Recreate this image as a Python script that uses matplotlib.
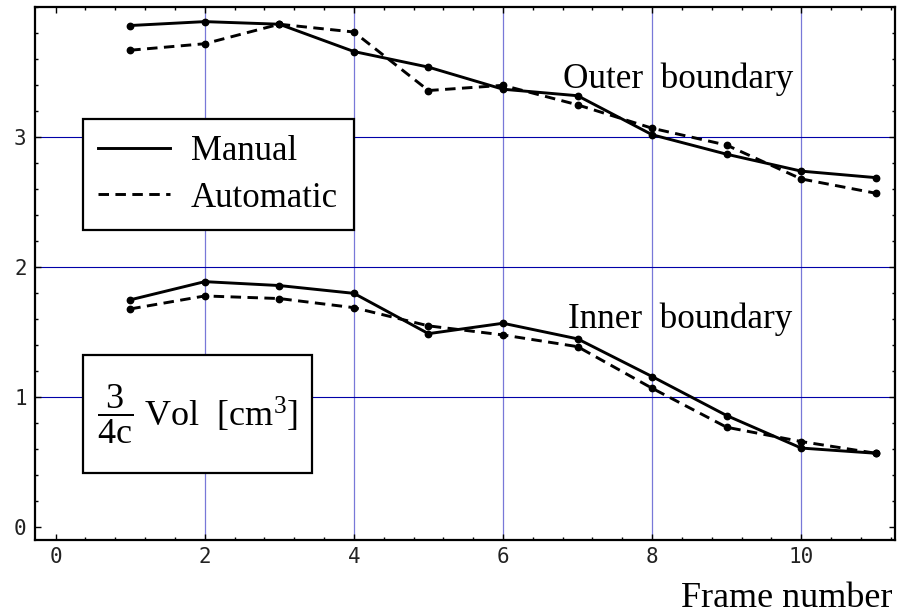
import matplotlib
matplotlib.use('Agg')
import matplotlib.pyplot as plt
from matplotlib.patches import Rectangle
from matplotlib.lines import Line2D
from matplotlib.ticker import MultipleLocator, FixedLocator

plt.rcParams['mathtext.fontset'] = 'custom'
plt.rcParams['mathtext.rm'] = 'Liberation Serif'
plt.rcParams['mathtext.it'] = 'Liberation Serif:italic'

frames = [1, 2, 3, 4, 5, 6, 7, 8, 9, 10, 11]
outer_manual = [3.86, 3.89, 3.87, 3.66, 3.54, 3.37, 3.32, 3.02, 2.87, 2.74, 2.69]
outer_auto = [3.67, 3.72, 3.87, 3.81, 3.36, 3.40, 3.25, 3.07, 2.94, 2.68, 2.57]
inner_manual = [1.75, 1.89, 1.86, 1.80, 1.49, 1.57, 1.45, 1.16, 0.86, 0.61, 0.57]
inner_auto = [1.68, 1.78, 1.76, 1.69, 1.55, 1.48, 1.39, 1.07, 0.77, 0.66, 0.57]

xgrid = [2, 4, 6, 8, 10]
ygrid = [1, 2, 3]
yticks = [0, 1, 2, 3]

serif = 'Liberation Serif'

fig = plt.figure(figsize=(8.97, 6.15), dpi=100)
ax = fig.add_axes([0.039, 0.1224, 0.959, 0.8657])

for g in xgrid:
    ax.axvline(g, color='#7878d8', lw=0.9, zorder=1)
for g in ygrid:
    ax.axhline(g, color='#0000a8', lw=0.8, zorder=1)

for ys, ls in [(outer_manual, '-'), (outer_auto, '--'), (inner_manual, '-'), (inner_auto, '--')]:
    ax.plot(frames, ys, color='black', lw=2.1, ls=ls, dashes=(3.6, 2.2) if ls == '--' else (None, None),
            marker='o', ms=4.6, zorder=3)

ax.set_xlim(-0.277, 11.26)
ax.set_ylim(-0.095, 4.0)
ax.xaxis.set_major_locator(MultipleLocator(2))
ax.xaxis.set_minor_locator(MultipleLocator(0.4))
ax.yaxis.set_major_locator(FixedLocator(yticks))
ax.yaxis.set_minor_locator(MultipleLocator(0.2))
ax.tick_params(which='both', direction='in', top=True, right=True, width=1)
ax.tick_params(which='major', length=4.5, labelsize=15, labelcolor='#222222', pad=5)
ax.tick_params(which='minor', length=2.5)
ax.tick_params(axis='y', pad=6)
for lab in ax.get_xticklabels() + ax.get_yticklabels():
    lab.set_family('DejaVu Sans Mono')
for s in ax.spines.values():
    s.set_linewidth(1.6)

handles = [Line2D([], [], color='black', lw=2.1, ls='-'),
           Line2D([], [], color='black', lw=2.1, ls='--', dashes=(3.6, 2.2))]
leg = ax.legend(handles, ['Manual', 'Automatic'], loc='upper left',
                bbox_to_anchor=(0.0555, 0.79), borderaxespad=0, fancybox=False,
                edgecolor='black', framealpha=1, handlelength=2.05, handletextpad=0.62,
                borderpad=0.45, labelspacing=0.4, prop={'family': serif, 'size': 25})
leg.get_frame().set_linewidth(1.6)
leg.set_zorder(5)

ax.add_patch(Rectangle((0.0555, 0.1247), 0.2662, 0.2223, transform=ax.transAxes,
                       facecolor='white', edgecolor='black', lw=1.6, zorder=5))
ax.text(0.1889, 0.2358, r'$\dfrac{3}{4\mathrm{c}}$ Vol  [cm$^3$]', transform=ax.transAxes,
        ha='center', va='center', family=serif, fontsize=26, zorder=6)

ax.text(6.80, 3.382, 'Outer  boundary', family=serif, fontsize=25.3, va='baseline', zorder=4)
ax.text(6.87, 1.53, 'Inner  boundary', family=serif, fontsize=25.3, va='baseline', zorder=4)

fig.text(0.9955, 0.013, 'Frame number', family=serif, fontsize=26, ha='right', va='baseline')

fig.savefig('out.png', dpi=100)
